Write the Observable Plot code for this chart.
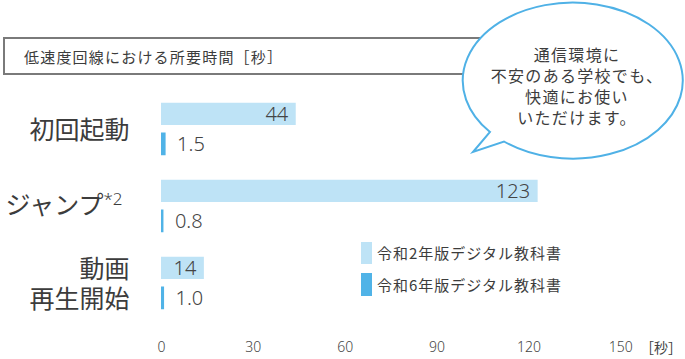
<!DOCTYPE html>
<html lang="ja">
<head>
<meta charset="utf-8">
<script src="https://cdn.jsdelivr.net/npm/d3@7"></script>
<script src="https://cdn.jsdelivr.net/npm/@observablehq/plot@0.6"></script>
<style>
  html, body { margin: 0; padding: 0; background: #fff; }
  body { font-family: "Noto Sans CJK JP", "Noto Sans", sans-serif; color: #3c3c3c; }
  #wrap { position: relative; width: 685px; height: 359px; overflow: hidden; }
  #chart { position: absolute; left: 0; top: 0; }
  #titlebox { position: absolute; left: 3px; top: 37px; width: 540px; height: 34px; border: 2px solid #7a7a7a; box-sizing: content-box; }
  #title { position: absolute; left: 24px; top: 56px; transform: translateY(-50%); font-size: 15px; letter-spacing: 1.2px; color: #3c3c3c; white-space: nowrap; line-height: 1; }
  #bubble { position: absolute; left: 0; top: 0; }
  .legend-item { position: absolute; left: 361px; display: flex; align-items: center; }
  .legend-item .sw { width: 11px; height: 22.5px; margin-right: 5px; }
  .legend-item .lb { font-size: 15px; letter-spacing: 1px; color: #3c3c3c; white-space: nowrap; line-height: 1; }
  #unit { position: absolute; left: 640px; top: 347px; transform: translateY(-50%); font-size: 14px; color: #444; line-height: 1; white-space: nowrap; }
</style>
</head>
<body>
<div id="wrap">
  <div id="chart"></div>
  <div id="titlebox"></div>
  <div id="title"></div>
  <svg id="bubble" width="685" height="359"></svg>
  <div id="legend"></div>
  <div id="unit"></div>
</div>
<script>
// ---- data ----
const categories = ["初回起動", "ジャンプ", "動画再生開始"];
const categoryLabels = ["初回起動", "ジャンプ", "動画\n再生開始"];
const categoryNotes = ["", "*2", ""];
const seriesNames = ["令和2年版デジタル教科書", "令和6年版デジタル教科書"];
const valuesR2 = [44, 123, 14];
const valuesR6 = [1.5, 0.8, 1.0];
const xTicks = [0, 30, 60, 90, 120, 150];
const titleText = "低速度回線における所要時間［秒］";
const unitText = "［秒］";
const bubbleLines = ["通信環境に", "不安のある学校でも、", "快適にお使い", "いただけます。"];

const lightColor = "#bee3f6";
const darkColor = "#50b3e7";
const textColor = "#3c3c3c";
const numFont = '"Noto Sans", "Open Sans", sans-serif';

const data = categories.map((c, i) => ({
  cat: c, label: categoryLabels[i], note: categoryNotes[i], r2: valuesR2[i], r6: valuesR6[i]
}));
const withNote = data.filter(d => d.note);
const withoutNote = data.filter(d => !d.note);

const chart = Plot.plot({
  width: 685,
  height: 359,
  marginLeft: 161,
  marginRight: 31,
  marginTop: 84,
  marginBottom: 31.5,
  style: { fontFamily: '"Noto Sans CJK JP", "Noto Sans", sans-serif', background: "transparent", color: textColor, overflow: "visible" },
  x: { domain: [0, 161], axis: null },
  y: { domain: categories, axis: null, paddingInner: 0, paddingOuter: 0.068 },
  marks: [
    Plot.barX(data, { x: "r2", y: "cat", fill: lightColor, insetTop: 12.75, insetBottom: 42 }),
    Plot.barX(data, { x: "r6", y: "cat", fill: darkColor, insetTop: 42.5, insetBottom: 11.75 }),
    Plot.text(data, { x: "r2", y: "cat", text: d => d3.format("d")(d.r2), textAnchor: "end", dx: -8, dy: -14.7, fontSize: 20, fontFamily: numFont, fontWeight: 300, fill: "#444" }),
    Plot.text(data, { x: "r6", y: "cat", text: d => d3.format(".1f")(d.r6), textAnchor: "start", dx: 11, dy: 15.3, fontSize: 20, fontFamily: numFont, fontWeight: 300, fill: "#444" }),
    Plot.text(withoutNote, { y: "cat", text: "label", frameAnchor: "left", textAnchor: "end", dx: -32, fontSize: 25, lineHeight: 1.2, fill: textColor }),
    Plot.text(withNote, { y: "cat", text: "label", frameAnchor: "left", textAnchor: "end", dx: -58, fontSize: 25, fill: textColor }),
    Plot.text(withNote, { y: "cat", text: "note", frameAnchor: "left", textAnchor: "start", dx: -58, dy: -6, fontSize: 17, fontFamily: numFont, fontWeight: 300, fill: textColor }),
    Plot.axisX({ ticks: xTicks, tickSize: 0, tickPadding: 14.5, line: true, stroke: "#666", strokeWidth: 2, fill: "#444", fontSize: 14, fontFamily: numFont, fontWeight: 300, label: null })
  ]
});
document.getElementById("chart").appendChild(chart);

document.getElementById("title").textContent = titleText;
document.getElementById("unit").textContent = unitText;

// bubble
const bsvg = d3.select("#bubble");
bsvg.append("path")
  .attr("d", "M490,132 A110,78 0 1 1 504,141.5 L473,152 Z")
  .attr("fill", "#fff")
  .attr("stroke", "#4fb1e6")
  .attr("stroke-width", 2)
  .attr("stroke-linejoin", "miter");
bsvg.append("g")
  .attr("font-family", '"Noto Sans CJK JP", sans-serif')
  .attr("font-size", 16)
  .attr("letter-spacing", "1.3px")
  .attr("fill", textColor)
  .attr("text-anchor", "middle")
  .selectAll("text")
  .data(bubbleLines)
  .join("text")
  .attr("x", 577)
  .attr("y", (d, i) => 53.5 + i * 21.2)
  .attr("dominant-baseline", "central")
  .text(d => d);

// legend
const legendColors = [lightColor, darkColor];
const legendTops = [241.5, 273];
const legend = d3.select("#legend");
seriesNames.forEach((name, i) => {
  const item = legend.append("div").attr("class", "legend-item").style("top", legendTops[i] + "px");
  item.append("div").attr("class", "sw").style("background", legendColors[i]);
  item.append("div").attr("class", "lb").text(name);
});
</script>
</body>
</html>
